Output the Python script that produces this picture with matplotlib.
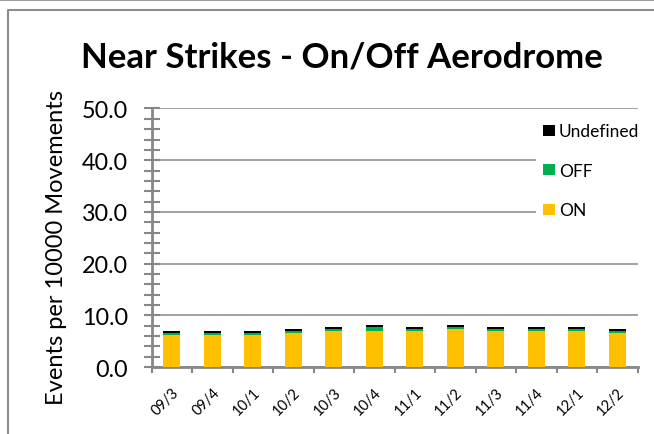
import matplotlib.pyplot as plt
import matplotlib.transforms as mtransforms
from matplotlib.lines import Line2D
from matplotlib.ticker import MultipleLocator, FormatStrFormatter

plt.rcParams["font.family"] = ["Lato", "DejaVu Sans"]

quarters = ["09/3", "09/4", "10/1", "10/2", "10/3", "10/4",
            "11/1", "11/2", "11/3", "11/4", "12/1", "12/2"]
on_rate = [6.2, 6.2, 6.2, 6.6, 7.0, 7.0, 7.0, 7.4, 7.0, 7.0, 7.0, 6.6]
off_rate = [0.4, 0.4, 0.4, 0.4, 0.4, 0.8, 0.4, 0.4, 0.4, 0.4, 0.4, 0.4]
undef_rate = [0.4, 0.4, 0.4, 0.4, 0.4, 0.4, 0.4, 0.4, 0.4, 0.4, 0.4, 0.4]

grey = "#878787"
fig = plt.figure(figsize=(6.54, 4.35), dpi=100)
ax = fig.add_axes([0.2317, 0.154, 0.7434, 0.5943])

x = range(len(quarters))
bottom2 = [a + b for a, b in zip(on_rate, off_rate)]
b_on = ax.bar(x, on_rate, width=0.42, color="#FFC000", zorder=3)
b_off = ax.bar(x, off_rate, width=0.42, bottom=on_rate, color="#00B050", zorder=3)
b_und = ax.bar(x, undef_rate, width=0.42, bottom=bottom2, color="black", zorder=3)

ax.set_xlim(-0.5, len(quarters) - 0.5)
ax.set_ylim(0, 50)
ax.yaxis.set_major_locator(MultipleLocator(10))
ax.yaxis.set_minor_locator(MultipleLocator(2))
ax.yaxis.set_major_formatter(FormatStrFormatter("%.1f"))
ax.grid(axis="y", which="major", color=grey, lw=1.1, zorder=0)

ax.set_xticks(list(x))
ax.set_xticklabels(quarters, rotation=45, ha="right", va="top",
                   rotation_mode="anchor", fontsize=10.5)
# nudge the slanted quarter labels a little to the left
shift = mtransforms.ScaledTranslation(-4 / 72, 0, fig.dpi_scale_trans)
for lbl in ax.get_xticklabels():
    lbl.set_transform(lbl.get_transform() + shift)
ax.set_xticks([i - 0.5 for i in range(len(quarters) + 1)], minor=True)
ax.tick_params(axis="x", which="major", length=0, pad=13)
ax.tick_params(axis="x", which="minor", length=4, width=1.5, color=grey, direction="out")
ax.tick_params(axis="y", which="both", direction="inout", length=12, color=grey,
               width=1.5, labelsize=16.8, pad=11)

for side in ["top", "right"]:
    ax.spines[side].set_visible(False)
for side in ["left", "bottom"]:
    ax.spines[side].set_color(grey)
    ax.spines[side].set_linewidth(2)

ax.set_ylabel("Events per 10000 Movements", fontsize=17, va="center")
ax.yaxis.set_label_coords(-0.196, 0.468)

leg = ax.legend([b_und, b_off, b_on], ["Undefined", "OFF", "ON"],
                loc="upper left", bbox_to_anchor=(0.819, 0.73),
                bbox_transform=fig.transFigure, fontsize=12.5,
                handlelength=0.7, handleheight=0.6, handletextpad=0.25,
                labelspacing=1.35, frameon=True, fancybox=False,
                borderpad=0.4, borderaxespad=0)
leg.get_frame().set_facecolor("white")
leg.get_frame().set_edgecolor("none")
leg.get_frame().set_alpha(1)
leg.set_zorder(5)

fig.text(0.523, 0.867, "Near Strikes - On/Off Aerodrome", ha="center", va="center",
         fontsize=25, fontweight="bold")

# chart frame lines
fig.add_artist(Line2D([0, 1], [0.998, 0.998], color="#8c8c8c", lw=1.2))
fig.add_artist(Line2D([0.0125, 0.0125, 1.0], [0.0, 0.975, 0.975], color="#8c8c8c", lw=1.5))

fig.savefig("out.png", dpi=100)
